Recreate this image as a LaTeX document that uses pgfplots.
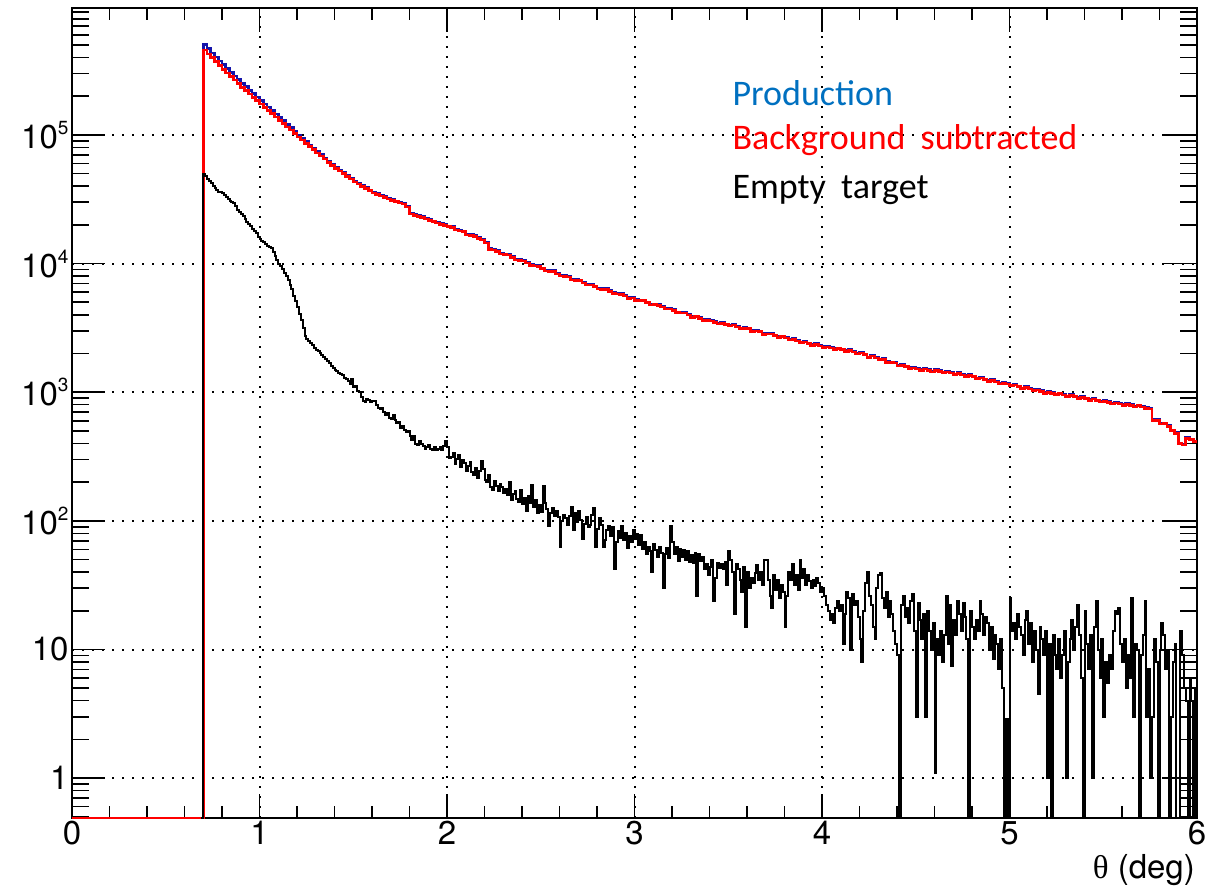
\documentclass[border=0pt]{standalone}
\usepackage{pgfplots}
\pgfplotsset{compat=1.18}
\usepackage{pgfplotstable}
\usepackage{fontspec}
\setmainfont{TeX Gyre Heros}
\newfontfamily\calibri{Carlito}
\newfontfamily\symbolfont{Liberation Serif}
\definecolor{prodline}{RGB}{20,20,170}
\definecolor{prodtext}{RGB}{0,112,192}
\newcommand{\tenpow}[1]{10\raisebox{14pt}{\fontsize{19}{19}\selectfont #1}}
\newcommand{\wsp}{\hspace{0.42em}}

% Production and background-subtracted spectra (left bin edges, counts)
\pgfplotstableread{
x prod sub
0.00 0.49 0.49
0.70 504000 458000
0.72 467600 427000
0.74 433800 398000
0.76 404700 372000
0.78 376800 347000
0.80 351200 324000
0.82 327800 303000
0.84 306700 284000
0.86 287800 267000
0.88 269000 250000
0.90 251300 234000
0.92 236900 221000
0.94 222600 208000
0.96 209300 196000
0.98 197200 185000
1.00 185100 174000
1.02 174200 164000
1.04 164300 155000
1.06 154500 146000
1.08 145700 138000
1.10 137000 130000
1.12 129200 123000
1.14 121000 115600
1.16 113700 108900
1.18 106700 102600
1.20 100100 96600
1.22 94100 91200
1.24 88700 86100
1.26 83600 81300
1.28 78700 76700
1.30 74200 72400
1.32 70200 68550
1.34 66350 64860
1.36 62730 61380
1.38 59300 58080
1.40 56050 54950
1.42 53350 52360
1.44 50790 49890
1.46 48390 47530
1.48 46060 45290
1.50 43880 43150
1.52 42160 41500
1.54 40540 39900
1.56 38980 38370
1.58 37450 36900
1.60 36010 35480
1.62 35030 34510
1.64 34070 33570
1.66 33150 32660
1.68 32250 31770
1.70 31360 30900
1.72 30720 30270
1.74 30090 29650
1.76 29550 29110
1.78 27950 27540
1.80 24610 24270
1.82 24100 23770
1.84 23610 23280
1.86 23120 22800
1.88 22440 22130
1.90 21930 21630
1.92 21430 21130
1.94 20990 20700
1.96 20510 20230
1.98 20050 19770
2.00 19630 19360
2.02 19320 19070
2.04 18430 18190
2.06 18140 17910
2.08 17910 17680
2.10 16950 16730
2.12 16780 16560
2.14 16510 16300
2.16 15940 15740
2.18 15400 15200
2.20 14640 14450
2.22 13050 12880
2.24 12950 12780
2.26 12580 12420
2.28 12050 11900
2.30 11900 11750
2.32 11780 11630
2.34 11320 11170
2.36 10810 10670
2.38 10760 10620
2.40 10590 10450
2.42 10220 10090
2.44 9820 9690
2.46 9710 9590
2.48 9610 9490
2.50 9240 9120
2.52 8840 8730
2.54 8820 8710
2.56 8790 8680
2.58 8430 8320
2.60 8110 8010
2.62 8040 7940
2.64 7940 7840
2.66 7540 7440
2.68 7510 7410
2.70 7450 7350
2.72 7170 7080
2.74 6910 6820
2.76 6920 6830
2.78 6700 6610
2.80 6410 6330
2.82 6400 6320
2.84 6390 6310
2.86 6150 6070
2.88 5930 5850
2.90 5900 5820
2.92 5830 5760
2.94 5650 5580
2.96 5430 5360
2.98 5480 5410
3.00 5240 5170
3.02 5220 5150
3.04 5200 5140
3.06 5030 4970
3.08 4840 4780
3.10 4850 4790
3.12 4800 4740
3.14 4650 4590
3.16 4490 4430
3.18 4510 4450
3.20 4380 4320
3.22 4200 4150
3.24 4190 4140
3.26 4170 4120
3.28 4020 3970
3.30 3880 3830
3.32 3910 3860
3.34 3800 3750
3.36 3660 3610
3.38 3660 3610
3.40 3640 3590
3.42 3550 3500
3.44 3420 3380
3.46 3470 3430
3.48 3400 3360
3.50 3300 3260
3.52 3360 3320
3.54 3260 3220
3.56 3160 3120
3.58 3170 3130
3.60 3160 3120
3.62 3020 2980
3.64 3030 2990
3.66 3000 2960
3.68 2860 2820
3.70 2870 2830
3.72 2870 2830
3.74 2790 2750
3.76 2700 2670
3.78 2730 2700
3.80 2660 2630
3.82 2570 2540
3.84 2610 2580
3.86 2540 2510
3.88 2460 2430
3.90 2480 2450
3.92 2420 2390
3.94 2340 2310
3.96 2380 2350
3.98 2320 2290
4.00 2260 2230
4.02 2280 2250
4.04 2240 2210
4.06 2180 2150
4.08 2210 2180
4.10 2170 2140
4.12 2110 2080
4.14 2140 2110
4.16 2080 2050
4.18 2010 1980
4.20 2040 2015
4.22 1985 1960
4.24 1885 1860
4.26 1935 1910
4.28 1875 1850
4.30 1815 1790
4.32 1825 1800
4.34 1730 1705
4.36 1720 1700
4.38 1705 1685
4.40 1615 1595
4.42 1635 1615
4.44 1600 1580
4.46 1550 1530
4.48 1565 1545
4.50 1530 1510
4.52 1500 1480
4.54 1530 1510
4.56 1500 1480
4.58 1460 1440
4.60 1495 1475
4.62 1470 1450
4.64 1440 1420
4.66 1455 1435
4.68 1430 1410
4.70 1390 1370
4.72 1420 1400
4.74 1385 1365
4.76 1350 1330
4.78 1370 1350
4.80 1340 1320
4.82 1290 1275
4.84 1305 1290
4.86 1270 1255
4.88 1230 1215
4.90 1250 1235
4.92 1215 1200
4.94 1175 1160
4.96 1190 1175
4.98 1170 1155
5.00 1140 1125
5.02 1150 1135
5.04 1120 1107
5.06 1080 1065
5.08 1105 1090
5.10 1075 1060
5.12 1045 1030
5.14 1055 1040
5.16 1030 1016
5.18 995 982
5.20 1012 999
5.22 992 979
5.24 968 955
5.26 989 976
5.28 965 953
5.30 937 925
5.32 955 942
5.34 935 923
5.36 910 898
5.38 923 911
5.40 903 891
5.42 875 863
5.44 896 884
5.46 872 861
5.48 849 838
5.50 860 849
5.52 845 834
5.54 820 809
5.56 837 826
5.58 822 811
5.60 802 792
5.62 815 804
5.64 799 789
5.66 776 766
5.68 796 786
5.70 777 767
5.72 758 748
5.74 751 741
5.76 611 603
5.78 612 604
5.80 574 566
5.82 578 571
5.84 550 543
5.86 510 503
5.88 486 479
5.90 404 398
5.92 395 389
5.94 443 437
5.96 433 427
5.98 418 412
6.00 418 412
}\thetadata

% Empty-target spectrum, 0.01 deg bins starting at 0.69 deg
\pgfplotstableread{
empty
0.49
50100
47900
45700
43600
42200
40300
38900
37600
36300
35700
35200
33900
32700
31600
30900
30200
29500
28200
26300
25100
24500
23400
22100
21100
20400
19500
18600
18000
17200
16200
15500
15100
14800
14300
13800
13500
13200
12300
11500
10700
10000
9550
9020
8510
8040
7410
6760
6310
5620
5130
4570
4070
3630
3160
2750
2570
2480
2400
2320
2210
2140
2090
2000
1950
1880
1820
1760
1680
1600
1550
1480
1450
1410
1380
1350
1290
1260
1230
1150
1260
1100
1120
1020
1000
912
851
832
891
871
832
861
851
794
759
741
750
708
661
692
631
617
661
603
575
589
525
550
513
490
501
457
427
457
398
389
417
398
380
363
372
389
363
355
372
355
363
372
355
380
417
372
309
316
339
275
302
324
263
295
282
245
269
288
240
229
257
214
245
294
251
209
200
229
182
174
204
186
170
195
182
166
178
158
200
145
162
170
148
141
174
135
151
120
155
138
190
129
145
115
132
117
186
138
123
91
115
126
110
120
107
63
100
112
105
93
110
129
85
115
98
120
102
72
95
107
89
93
112
125
63
87
105
93
63
71
85
91
76
89
42
69
83
74
91
71
81
62
76
68
85
72
79
65
78
60
69
55
63
58
40
66
59
52
63
56
30
55
62
51
91
68
55
63
49
60
52
59
50
58
48
54
47
56
26
55
49
52
42
46
38
44
50
24
36
47
43
46
42
48
32
58
50
40
19
46
42
35
28
44
15
40
30
36
33
39
45
35
40
32
50
50
35
26
21
38
29
35
25
32
28
15
26
40
35
46
32
38
29
50
36
42
32
38
34
30
35
31
36
33
28
30
26
22
20
17
19
16
21
24
20
22
11
19
28
25
10
27
22
24
18
12
8
20
33
40
26
22
15
12
30
38
39
25
21
28
18
24
19
14
11
9
0.49
22
26
18
21
16
24
27
14
3
23
17
12
19
3
20
14
10
16
1.1
12
9
14
8
13
26
11
22
7.5
17
13
24
19
14
23
18
12
0.49
20
15
12
17
14
24
19
13
18
16
10
15
8.5
13
11
7
12
5
0.49
2.9
0.49
25
14
16
12
19
15
13
9
17
20
11
16
8
14
10
4.5
15
12
9
14
1
11
0.49
13
9
7
12
6
9
14
1
8
12
17
10
15
22
13
6
0.49
20
11
7
13
1
15
24
10
6
12
3
8
5.5
9
7
14
20
19
21
11
8
12
5
9
6
25
3
11
10
0.49
9
13
24
3
7
1
3
12
8
0.49
10
16
13
7
10
0.49
3
8
11
0.49
0.49
14
9
5
4
0.49
6
4
0.49
5
5
}\emptydata

\begin{document}
\begin{tikzpicture}
\begin{axis}[
  at={(0pt,0pt)}, anchor=south west,
  scale only axis, width=1125pt, height=810pt,
  xmin=0, xmax=6,
  ymode=log, ymin=0.49, ymax=9.7e5,
  xtick={0,1,2,3,4,5,6},
  xticklabels={0,1,2,3,4,5,6},
  minor x tick num=4,
  ytick={1,10,100,1000,10000,100000},
  yticklabels={1,10,\tenpow{2},\tenpow{3},\tenpow{4},\tenpow{5}},
  minor ytick={0.5,0.6,0.7,0.8,0.9,2,3,4,5,6,7,8,9,20,30,40,50,60,70,80,90,200,300,400,500,600,700,800,900,2000,3000,4000,5000,6000,7000,8000,9000,20000,30000,40000,50000,60000,70000,80000,90000,200000,300000,400000,500000,600000,700000,800000,900000},
  tick align=inside,
  tick pos=both,
  grid=major,
  major grid style={black, line width=2pt, dash pattern=on 2pt off 8pt},
  axis line style={line width=2pt},
  tick style={black, line width=1.6pt},
  xtick style={/pgfplots/major tick length=24pt, /pgfplots/minor tick length=12pt},
  ytick style={/pgfplots/major tick length=33pt, /pgfplots/minor tick length=17pt},
  ticklabel style={font=\fontsize{33}{38}\selectfont},
]
\addplot[const plot mark left, prodline, line width=2.6pt, no markers] table[x=x, y=prod] {\thetadata};
\addplot[const plot mark left, red, line width=2.6pt, no markers] table[x=x, y=sub] {\thetadata};
\addplot[const plot mark left, black, line width=2pt, no markers] table[x expr=0.69+0.01*\coordindex, y=empty] {\emptydata};

\node[anchor=base west, inner sep=0pt, text=prodtext, font=\calibri\fontsize{36}{42}\selectfont] at (rel axis cs:0.587,0.880) {Production};
\node[anchor=base west, inner sep=0pt, text=red, font=\calibri\fontsize{36}{42}\selectfont] at (rel axis cs:0.587,0.8247) {Background\wsp subtracted};
\node[anchor=base west, inner sep=0pt, text=black, font=\calibri\fontsize{36}{42}\selectfont] at (rel axis cs:0.587,0.7654) {Empty\wsp target};
\end{axis}
\node[anchor=base east, inner sep=0pt, font=\fontsize{33}{38}\selectfont] at (1123pt,-60pt) {{\symbolfont θ} (deg)};
\pgfresetboundingbox
\path[use as bounding box] (-72pt,-73pt) rectangle (1135pt,818pt);
\end{tikzpicture}
\end{document}
